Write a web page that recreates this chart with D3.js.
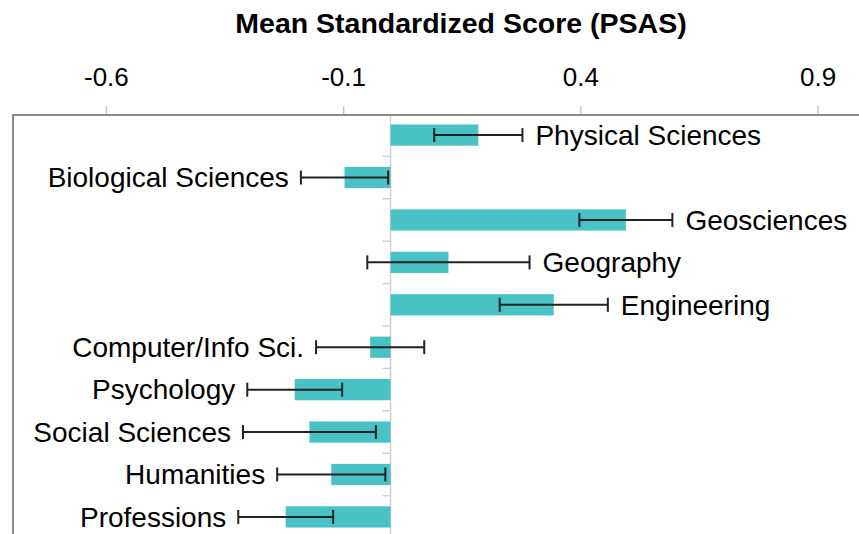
<!DOCTYPE html>
<html>
<head>
<meta charset="utf-8">
<script src="https://cdn.jsdelivr.net/npm/d3@7"></script>
<style>
  body { margin: 0; background: #fff; }
  svg { display: block; font-family: "Liberation Sans", Arial, sans-serif; }
</style>
</head>
<body>
<div id="chart"></div>
<script>
var fields = ["Physical Sciences", "Biological Sciences", "Geosciences", "Geography", "Engineering",
    "Computer/Info Sci.", "Psychology", "Social Sciences", "Humanities", "Professions"];
var means = [0.185, -0.097, 0.496, 0.122, 0.344, -0.043, -0.202, -0.171, -0.125, -0.221];
var errors = [0.093, 0.092, 0.098, 0.171, 0.114, 0.114, 0.100, 0.140, 0.114, 0.100];
var tickValues = [-0.6, -0.1, 0.4, 0.9];

var data = fields.map(function (f, i) {
    return { field: f, mean: means[i], err: errors[i] };
});

var width = 859, height = 534;

var svg = d3.select("#chart").append("svg")
    .attr("width", width)
    .attr("height", height);

// scales
var x = d3.scaleLinear()
    .domain([-0.8, 1.0])
    .range([11, 865]);

var y = d3.scaleBand()
    .domain(fields)
    .range([116, 116 + 42 * fields.length])
    .paddingInner(0.5)
    .paddingOuter(0.2);

// title
svg.append("text")
    .attr("x", 461)
    .attr("y", 23)
    .attr("dy", "0.35em")
    .attr("text-anchor", "middle")
    .style("font-size", "28.5px")
    .style("font-weight", "bold")
    .text("Mean Standardized Score (PSAS)");

// top axis
var xAxis = d3.axisTop(x)
    .tickValues(tickValues)
    .tickSize(9)
    .tickPadding(20)
    .tickFormat(function (d) { return d3.format(".1f")(d).replace("\u2212", "-"); });

var gx = svg.append("g")
    .attr("transform", "translate(0,115)")
    .call(xAxis);
gx.select(".domain").remove();
gx.selectAll(".tick line").attr("stroke", "#c8c8c8").attr("stroke-width", 1.5);
gx.selectAll(".tick text")
    .style("font-size", "26px")
    .attr("fill", "#000");

// axis frame lines
svg.append("line")
    .attr("x1", 12).attr("x2", width)
    .attr("y1", 115).attr("y2", 115)
    .attr("stroke", "#8c8c8c").attr("stroke-width", 2);
svg.append("line")
    .attr("x1", 13).attr("x2", 13)
    .attr("y1", 114).attr("y2", height)
    .attr("stroke", "#8c8c8c").attr("stroke-width", 2);

// zero line with category ticks
svg.append("line")
    .attr("x1", x(0)).attr("x2", x(0))
    .attr("y1", 116).attr("y2", height)
    .attr("stroke", "#d0d0d0").attr("stroke-width", 1.5);

var step = y.step();
svg.selectAll(".cat-tick")
    .data(fields.slice(1))
    .enter().append("line")
    .attr("class", "cat-tick")
    .attr("x1", x(0) - 8).attr("x2", x(0))
    .attr("y1", function (d) { return y(d) - (step - y.bandwidth()) / 2; })
    .attr("y2", function (d) { return y(d) - (step - y.bandwidth()) / 2; })
    .attr("stroke", "#d0d0d0").attr("stroke-width", 1.5);

// bars
svg.selectAll(".bar")
    .data(data)
    .enter().append("rect")
    .attr("class", "bar")
    .attr("fill", "#48c2c5")
    .attr("x", function (d) { return x(Math.min(0, d.mean)); })
    .attr("width", function (d) { return Math.abs(x(d.mean) - x(0)); })
    .attr("y", function (d) { return y(d.field); })
    .attr("height", y.bandwidth());

// error bars
var eb = svg.selectAll(".err")
    .data(data)
    .enter().append("g")
    .attr("class", "err")
    .attr("stroke", "#222")
    .attr("stroke-width", 2);

function cy(d) { return y(d.field) + y.bandwidth() / 2; }

eb.append("line")
    .attr("x1", function (d) { return x(d.mean - d.err); })
    .attr("x2", function (d) { return x(d.mean + d.err); })
    .attr("y1", cy).attr("y2", cy);
eb.append("line")
    .attr("x1", function (d) { return x(d.mean - d.err); })
    .attr("x2", function (d) { return x(d.mean - d.err); })
    .attr("y1", function (d) { return cy(d) - 7; })
    .attr("y2", function (d) { return cy(d) + 7; });
eb.append("line")
    .attr("x1", function (d) { return x(d.mean + d.err); })
    .attr("x2", function (d) { return x(d.mean + d.err); })
    .attr("y1", function (d) { return cy(d) - 7; })
    .attr("y2", function (d) { return cy(d) + 7; });

// labels at the outer end of each error bar
svg.selectAll(".label")
    .data(data)
    .enter().append("text")
    .attr("class", "label")
    .style("font-size", "28px")
    .attr("x", function (d) {
        return d.mean >= 0 ? x(d.mean + d.err) + 13 : x(d.mean - d.err) - 12;
    })
    .attr("y", function (d) { return cy(d); })
    .attr("dy", "0.35em")
    .attr("text-anchor", function (d) { return d.mean >= 0 ? "start" : "end"; })
    .text(function (d) { return d.field; });
</script>
</body>
</html>
